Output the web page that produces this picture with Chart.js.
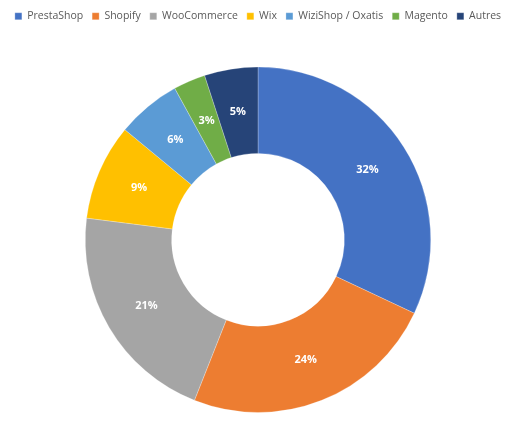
<!DOCTYPE html>
<html>
<head>
<meta charset="utf-8">
<script src="https://cdn.jsdelivr.net/npm/chart.js@4"></script>
<style>
  html, body { margin: 0; padding: 0; background: #fff; }
  #wrap { width: 518px; height: 429px; }
</style>
</head>
<body>
<div id="wrap"><canvas id="shareChart"></canvas></div>
<script>
// Parts de marché des CMS e-commerce
const platforms = ['PrestaShop', 'Shopify', 'WooCommerce', 'Wix', 'WiziShop / Oxatis', 'Magento', 'Autres'];
const shares = [32, 24, 21, 9, 6, 3, 5];
const colors = ['#4472C4', '#ED7D31', '#A5A5A5', '#FFC000', '#5B9BD5', '#70AD47', '#264478'];

// draw the % labels in the middle of each slice
const sliceLabels = {
    id: 'sliceLabels',
    afterDatasetsDraw(chart) {
        const ctx = chart.ctx;
        const meta = chart.getDatasetMeta(0);
        ctx.save();
        ctx.font = 'bold 11px "Open Sans", sans-serif';
        ctx.fillStyle = '#fff';
        ctx.textAlign = 'center';
        ctx.textBaseline = 'middle';
        meta.data.forEach((arc, i) => {
            const p = arc.tooltipPosition();
            ctx.fillText(shares[i] + '%', p.x, p.y);
        });
        ctx.restore();
    }
};

// extra gap under the legend
const legendGap = {
    id: 'legendGap',
    beforeInit(chart) {
        const origFit = chart.legend.fit;
        chart.legend.fit = function () {
            origFit.bind(chart.legend)();
            this.height += 35;
        };
    }
};

document.addEventListener("DOMContentLoaded", () => {
    const ctx = document.getElementById('shareChart').getContext('2d');

    new Chart(ctx, {
        type: 'doughnut',
        data: {
            labels: platforms,
            datasets: [{
                data: shares,
                backgroundColor: colors,
                borderColor: 'rgba(255,255,255,0.25)',
                borderWidth: 1
            }]
        },
        options: {
            responsive: true,
            maintainAspectRatio: false,
            animation: false,
            cutout: '50%',
            layout: { padding: { top: 2, bottom: 16, left: 0, right: 2 } },
            plugins: {
                tooltip: { enabled: false },
                legend: {
                    position: 'top',
                    labels: {
                        boxWidth: 7,
                        boxHeight: 7,
                        padding: 9,
                        color: '#595959',
                        font: { family: '"Open Sans", sans-serif', size: 10.5 }
                    }
                }
            }
        },
        plugins: [legendGap, sliceLabels]
    });
});
</script>
</body>
</html>
